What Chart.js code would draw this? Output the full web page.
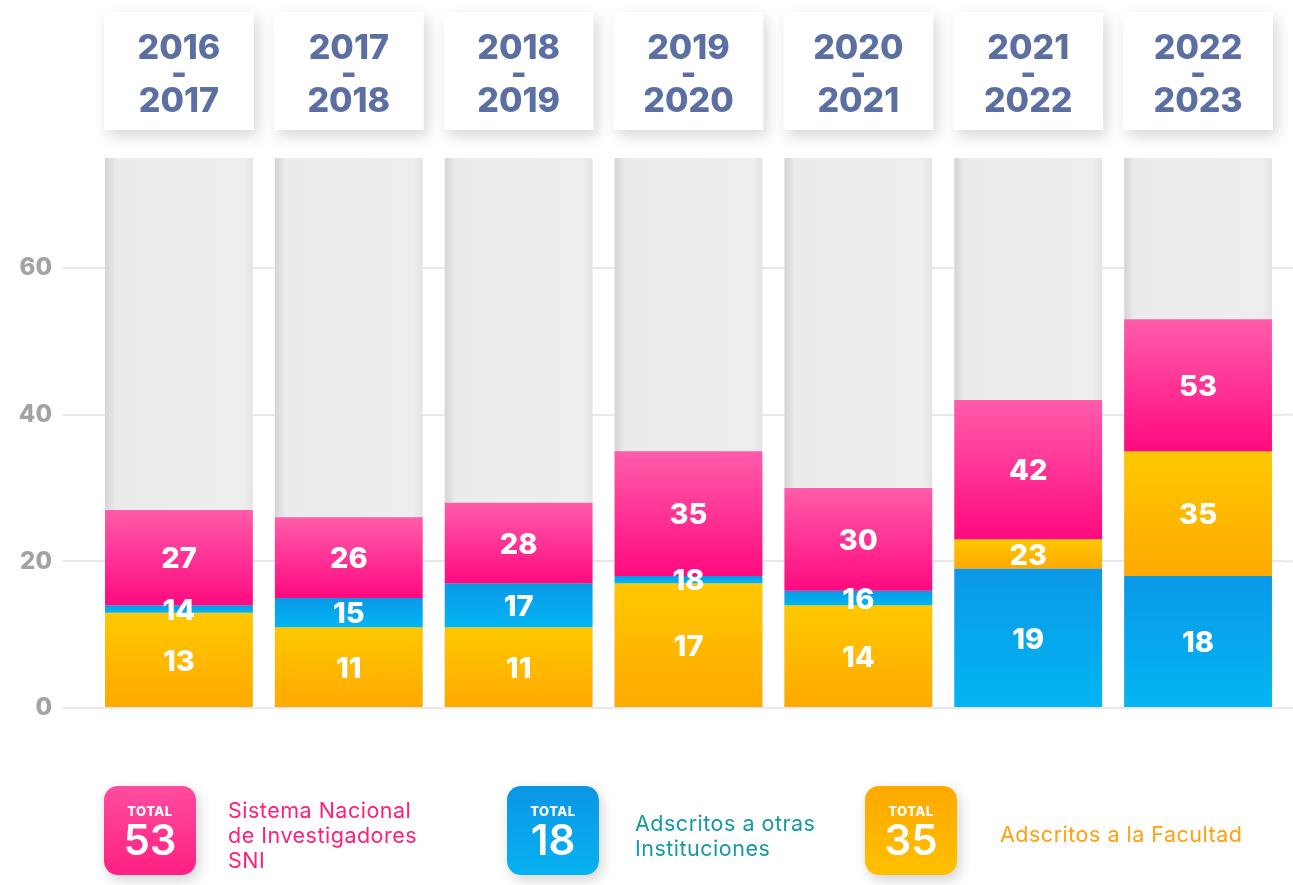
<!DOCTYPE html>
<html lang="es">
<head>
<meta charset="utf-8">
<title>Investigadores SNI</title>
<script src="https://cdn.jsdelivr.net/npm/chart.js@4.4.0/dist/chart.umd.min.js"></script>
<style>
  body { margin: 0; background: #fff; }
  #lienzo { position: relative; width: 1293px; height: 885px; font-family: Inter, "Open Sans", sans-serif; }
  #grafica { position: absolute; left: 0; top: 0; }
  .caja { position: absolute; top: 786px; width: 92px; height: 89px; border-radius: 14px; color: #fff; text-align: center;
          box-shadow: 3px 5px 14px rgba(0,0,0,0.18); }
  .caja .t { font-size: 13px; font-weight: 800; margin-top: 18px; line-height: 14px; letter-spacing: 0.5px; }
  .caja .n { font-size: 42px; font-weight: 600; line-height: 44px; }
  .texto { position: absolute; font-size: 21.5px; line-height: 25px; letter-spacing: 0.5px; }
</style>
</head>
<body>
<div id="lienzo">
  <canvas id="grafica" width="1293" height="885"></canvas>
  <div class="caja" style="left:104px; background: linear-gradient(#ff4d9f, #ff1f82);"><div class="t">TOTAL</div><div class="n">53</div></div>
  <div class="texto" style="left:228px; top:798px; color:#ff1f78;">Sistema Nacional<br>de Investigadores<br>SNI</div>
  <div class="caja" style="left:507px; background: linear-gradient(#0a95e6, #08b2f0);"><div class="t">TOTAL</div><div class="n">18</div></div>
  <div class="texto" style="left:635px; top:811px; color:#1698a8;">Adscritos a otras<br>Instituciones</div>
  <div class="caja" style="left:865px; background: linear-gradient(#ffa800, #ffc000);"><div class="t">TOTAL</div><div class="n">35</div></div>
  <div class="texto" style="left:1000px; top:822px; color:#ffa010;">Adscritos a la Facultad</div>
</div>
<script>
// ciclos escolares
var ciclos = [['2016', '-', '2017'], ['2017', '-', '2018'], ['2018', '-', '2019'], ['2019', '-', '2020'],
              ['2020', '-', '2021'], ['2021', '-', '2022'], ['2022', '-', '2023']]
// valores acumulados que se ven en cada tramo
var sni = [27, 26, 28, 35, 30, 42, 53]
var otras = [14, 15, 17, 18, 16, 19, 18]
var facultad = [13, 11, 11, 17, 14, 23, 35]
// altura de la barra gris de fondo
var fondo = [75, 75, 75, 75, 75, 75, 75]

var anchoBarra = 0.87

// tramo de cada serie: empieza donde termina la otra si es menor
function tramo(propio, otro) {
    return propio <= otro ? [0, propio] : [otro, propio]
}
var tramoFacultad = facultad.map(function(v, i) { return tramo(v, otras[i]) })
var tramoOtras = otras.map(function(v, i) { return tramo(v, facultad[i]) })
var tramoSni = sni.map(function(v, i) { return [Math.max(otras[i], facultad[i]), v] })
var tramoFondo = fondo.map(function(v) { return [0, v] })

function degradado(arriba, abajo) {
    return function(ctx) {
        var chart = ctx.chart
        if (!chart.chartArea || !ctx.raw) return abajo
        var y = chart.scales.y
        var g = chart.ctx.createLinearGradient(0, y.getPixelForValue(ctx.raw[1]), 0, y.getPixelForValue(ctx.raw[0]))
        g.addColorStop(0, arriba)
        g.addColorStop(1, abajo)
        return g
    }
}

function grisFondo(ctx) {
    var chart = ctx.chart
    if (!chart.chartArea) return '#ebebeb'
    var x = chart.scales.x
    var centro = x.getPixelForValue(ctx.dataIndex)
    var medio = x.width / ciclos.length * anchoBarra / 2
    var g = chart.ctx.createLinearGradient(centro - medio, 0, centro + medio, 0)
    g.addColorStop(0, '#d4d4d4')
    g.addColorStop(0.07, '#ebebeb')
    g.addColorStop(0.93, '#eeeeee')
    g.addColorStop(1, '#e4e4e4')
    return g
}

// cajas blancas con sombra detras de los ciclos
var cajasCiclo = {
    id: 'cajasCiclo',
    beforeDraw: function(chart) {
        var ctx = chart.ctx
        var x = chart.scales.x
        var arriba = chart.chartArea.top
        var ancho = x.width / ciclos.length * anchoBarra + 2
        ctx.save()
        ctx.fillStyle = '#fff'
        ctx.shadowColor = 'rgba(0,0,0,0.16)'
        ctx.shadowBlur = 14
        ctx.shadowOffsetX = 4
        ctx.shadowOffsetY = 6
        for (var i = 0; i < ciclos.length; i++) {
            var cx = x.getPixelForTick(i)
            ctx.fillRect(cx - ancho / 2, arriba - 146, ancho, 118)
        }
        ctx.restore()
    }
}

// lineas de la cuadricula hasta el borde derecho
var lineasLargas = {
    id: 'lineasLargas',
    beforeDatasetsDraw: function(chart) {
        var ctx = chart.ctx
        var y = chart.scales.y
        ctx.save()
        ctx.strokeStyle = '#e8e8e8'
        ctx.lineWidth = 2
        y.ticks.forEach(function(t) {
            var py = y.getPixelForValue(t.value)
            ctx.beginPath()
            ctx.moveTo(chart.chartArea.right, py)
            ctx.lineTo(chart.width, py)
            ctx.stroke()
        })
        ctx.restore()
    }
}

// numeros blancos en el centro de cada tramo
var etiquetas = {
    id: 'etiquetas',
    afterDatasetsDraw: function(chart) {
        var ctx = chart.ctx
        ctx.save()
        ctx.fillStyle = '#fff'
        ctx.font = '800 29px Inter, "Open Sans", sans-serif'
        ctx.textAlign = 'center'
        ctx.textBaseline = 'middle'
        chart.data.datasets.forEach(function(ds, d) {
            if (!ds.etiqueta) return
            chart.getDatasetMeta(d).data.forEach(function(el, i) {
                ctx.fillText(ds.data[i][1], el.x, (el.y + el.base) / 2 + 2)
            })
        })
        ctx.restore()
    }
}

var config = {
    type: 'bar',
    data: {
        labels: ciclos,
        datasets: [
            { label: 'Sistema Nacional de Investigadores SNI', data: tramoSni, etiqueta: true,
              backgroundColor: degradado('#ff5cab', '#ff0a7f') },
            { label: 'Adscritos a otras Instituciones', data: tramoOtras, etiqueta: true,
              backgroundColor: degradado('#0a98e8', '#02b6f2') },
            { label: 'Adscritos a la Facultad', data: tramoFacultad, etiqueta: true,
              backgroundColor: degradado('#ffc800', '#ffa900') },
            { label: 'fondo', data: tramoFondo, order: 10, backgroundColor: grisFondo }
        ]
    },
    options: {
        responsive: false,
        animation: false,
        layout: { padding: { top: 0, right: 10, bottom: 177, left: 0 } },
        datasets: { bar: { grouped: false, categoryPercentage: 1, barPercentage: anchoBarra, borderWidth: 0 } },
        plugins: { legend: { display: false }, tooltip: { enabled: false } },
        scales: {
            x: {
                position: 'top',
                grid: { display: false },
                border: { display: false },
                ticks: {
                    color: '#5b6fa3',
                    font: { family: 'Inter, "Open Sans", sans-serif', size: 34, weight: '800', lineHeight: 0.78 },
                    padding: 35,
                    maxRotation: 0
                },
                afterFit: function(axis) { axis.height = 158 }
            },
            y: {
                min: 0,
                max: 75,
                border: { display: false },
                grid: { color: '#e8e8e8', lineWidth: 2, tickLength: 31, tickColor: '#e8e8e8' },
                ticks: {
                    stepSize: 20,
                    padding: 11,
                    color: '#a3a3a3',
                    font: { family: 'Inter, "Open Sans", sans-serif', size: 24, weight: '800' }
                },
                afterBuildTicks: function(axis) {
                    axis.ticks = axis.ticks.filter(function(t) { return t.value % 20 === 0 })
                },
                afterFit: function(axis) { axis.width = 94 }
            }
        }
    },
    plugins: [cajasCiclo, lineasLargas, etiquetas]
}

var grafica = new Chart(document.getElementById('grafica'), config)
</script>
</body>
</html>
